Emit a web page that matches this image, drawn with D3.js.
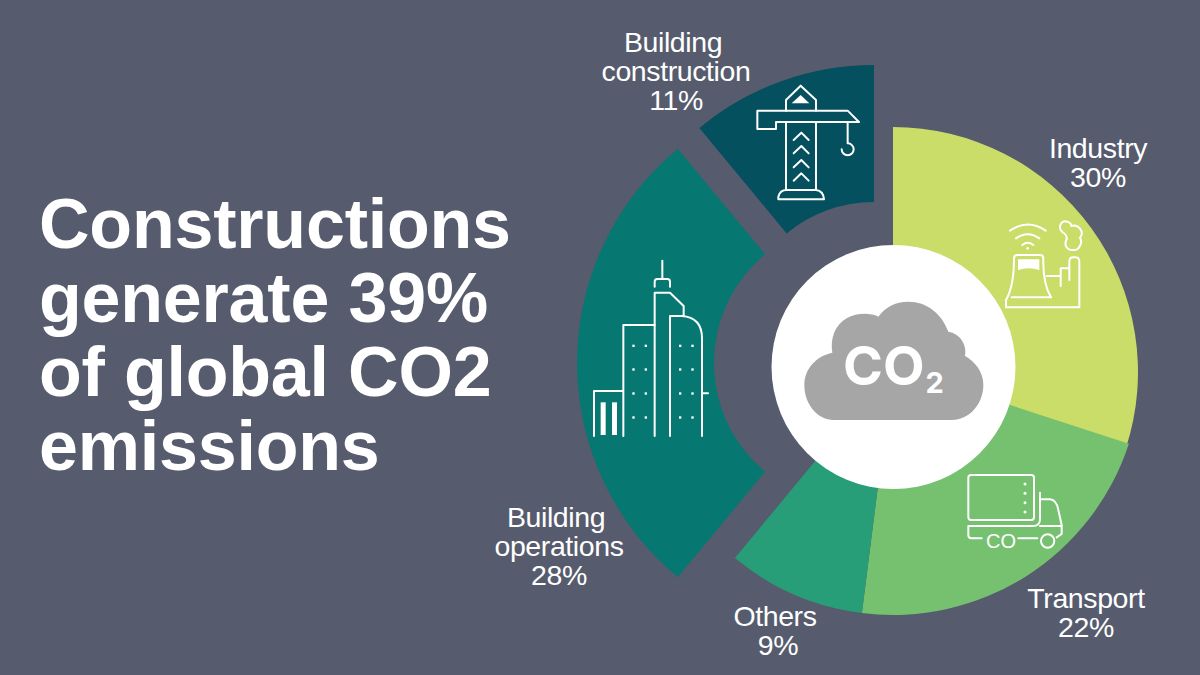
<!DOCTYPE html>
<html>
<head>
<meta charset="utf-8">
<script src="https://cdn.jsdelivr.net/npm/d3@7"></script>
<style>
html,body{margin:0;padding:0;background:#565b6d;}
svg{display:block;}
text{font-family:"Liberation Sans",Arial,sans-serif;fill:#fff;}
</style>
</head>
<body>
<svg id="chart" width="1200" height="675"></svg>
<script>
// Emission shares, percent of the global total
const sectors = ["Industry", "Transport", "Others", "Building operations", "Building construction"];
const shares = [30, 22, 9, 28, 11];
const sectorColors = ["#c9dd68", "#75c16f", "#289e78", "#067871", "#04505e"];

const titleLines = ["Constructions", "generate 39%", "of global CO2", "emissions"];

// The two building sectors are pulled out of the ring and drawn larger
const sliceCenters = [[893, 372], [893, 367], [893, 367], [855, 363], [874, 339]];
const sliceRadii = [[100, 245], [100, 248], [100, 248], [141, 278], [137, 274]];

// Label blocks: lines, centre x, first baseline, sideways nudge per line
const labelLines = [["Industry", "30%"], ["Transport", "22%"], ["Others", "9%"], ["Building", "operations", "28%"], ["Building", "construction", "11%"]];
const labelAnchors = [[1098, 158], [1086, 608], [775, 626], [559, 527], [676, 52]];
const labelNudges = [[0, 0], [0, 0], [0, 3], [-3, 0, 0], [-3, 0, 0]];

const svg = d3.select("#chart");

svg.append("g").selectAll("text").data(titleLines).join("text")
  .attr("x", 39).attr("y", (d, i) => 248 + i * 74)
  .attr("font-size", 70).attr("font-weight", 700).attr("letter-spacing", -0.2)
  .text(d => d);

const pie = d3.pie().sort(null).value(d => d);
const arc = d3.arc();
svg.append("g").selectAll("path").data(pie(shares)).join("path")
  .attr("transform", (d, i) => `translate(${sliceCenters[i]})`)
  .attr("fill", (d, i) => sectorColors[i])
  .attr("d", (d, i) => arc({innerRadius: sliceRadii[i][0], outerRadius: sliceRadii[i][1], startAngle: d.startAngle, endAngle: d.endAngle}));

svg.append("circle").attr("cx", 893.5).attr("cy", 367).attr("r", 122).attr("fill", "#fff");

const labels = svg.append("g").selectAll("text").data(labelLines).join("text")
  .attr("text-anchor", "middle").attr("font-size", 28.5).attr("letter-spacing", -0.4);
labels.each(function (lines, i) {
  d3.select(this).selectAll("tspan").data(lines).join("tspan")
    .attr("x", (d, j) => labelAnchors[i][0] + labelNudges[i][j])
    .attr("y", (d, j) => labelAnchors[i][1] + j * 29)
    .text(d => d);
});

// Icons, drawn at three times their size inside a scaled group
function icon(x, y) {
  return svg.append("g")
    .attr("transform", `translate(${x},${y}) scale(${1 / 3})`)
    .attr("fill", "none").attr("stroke", "#fff").attr("stroke-width", 6)
    .attr("stroke-linejoin", "round").attr("stroke-linecap", "round");
}

// Crane
const crane = icon(680, 60);
crane.append("path").attr("d", "M318 152V120L362 77L408 120V152");
crane.append("path").attr("d", "M335 130L362 105L388 130Z").attr("fill", "#fff").attr("stroke", "none");
crane.append("path").attr("d", "M232 152H503L537 186H288V207H232Z");
crane.append("path").attr("d", "M318 186V390M408 186V390");
crane.append("path").attr("d", "M295 418V410Q300 390 320 390H408Q430 392 432 418Z");
crane.selectAll("path.chevron").data([240, 280, 322, 362]).join("path").attr("class", "chevron")
  .attr("d", d => `M341 ${d}L364 ${d - 22}L386 ${d}`);
crane.append("path").attr("d", "M503 186V250A18 18 0 1 1 485 268");

// Towers
const city = icon(570, 240);
city.append("path").attr("d", "M277 62V117M254 140V125Q254 117 262 117H292Q300 117 300 125V140");
city.append("path").attr("d", "M254 588V158H300L341 198V228");
city.append("path").attr("d", "M300 588V228H335Q396 232 396 295V588M396 460H414");
city.append("path").attr("d", "M160 588V255H254M72 588V453H160");
city.selectAll("rect").data([92, 126]).join("rect")
  .attr("x", d => d).attr("y", 487).attr("width", 15).attr("height", 98)
  .attr("fill", "#fff").attr("stroke", "none");
const windowRows = [317, 388, 460, 532];
const windowCols = [190, 227, 330, 367];
city.selectAll("rect.win").data(d3.cross(windowCols, windowRows)).join("rect").attr("class", "win")
  .attr("x", d => d[0] - 3).attr("y", d => d[1] - 3).attr("width", 7).attr("height", 7)
  .attr("fill", "#fff").attr("stroke", "none");

// Cloud
const cloud = svg.append("g").attr("transform", `translate(770,270) scale(${1 / 3})`);
cloud.append("path").attr("fill", "#a6a6a6")
  .attr("d", "M190 450H545C600 450 640 400 640 345C640 305 615 275 585 258C592 225 570 190 535 185C515 130 470 95 415 95C375 95 345 112 325 140C300 128 260 128 230 145C195 165 180 205 187 248C140 258 103 295 103 345C103 405 145 450 190 450Z");
const cloudText = svg.append("text").attr("x", 843).attr("y", 385)
  .style("font-family", "Inter,sans-serif").attr("font-weight", 700).attr("font-size", 54);
cloudText.append("tspan").text("CO");
cloudText.append("tspan").attr("dx", 1).attr("dy", 8).attr("font-size", 29).text("2");

// Power plant
const plant = icon(990, 200);
plant.append("path").attr("d", "M60 92Q113 55 167 92M78 115Q113 90 148 115M97 135Q113 122 130 135");
plant.append("circle").attr("cx", 113).attr("cy", 145).attr("r", 4).attr("fill", "#fff").attr("stroke", "none");
plant.append("path").attr("d", "M48 322V300Q72 260 72 175Q72 165 82 165H150Q160 165 160 175Q158 250 183 292H65");
plant.append("path").attr("d", "M48 322H268V185Q268 172 255 172H250Q238 172 238 185V240");
plant.append("path").attr("d", "M170 228H212M212 258V205H238");
plant.append("path").attr("d", "M84 178H148V210Q116 200 84 210Z").attr("fill", "#fff").attr("stroke", "none");
plant.append("path").attr("d", "M218 97C200 80 215 60 232 65C240 68 244 75 244 78C265 72 285 95 270 113C280 130 265 152 250 150C235 152 222 140 228 122C235 112 225 100 218 97Z");

// Truck
const truck = icon(950, 460);
truck.append("rect").attr("x", 55).attr("y", 45).attr("width", 197).attr("height", 135).attr("rx", 8);
truck.selectAll("circle.rivet").data([72, 100, 128, 156]).join("circle").attr("class", "rivet")
  .attr("cx", 225).attr("cy", d => d).attr("r", 4.5).attr("fill", "#fff").attr("stroke", "none");
truck.append("path").attr("d", "M270 98V180Q268 198 250 198H55V225Q55 235 65 235H95");
truck.append("path").attr("d", "M275 118H300Q320 120 325 150L335 195V222L320 232M270 198H335M205 235H262");
truck.append("circle").attr("cx", 293).attr("cy", 243).attr("r", 20);
truck.append("text").attr("x", 108).attr("y", 265).attr("font-size", 60).attr("stroke", "none").text("CO");
</script>
</body>
</html>
